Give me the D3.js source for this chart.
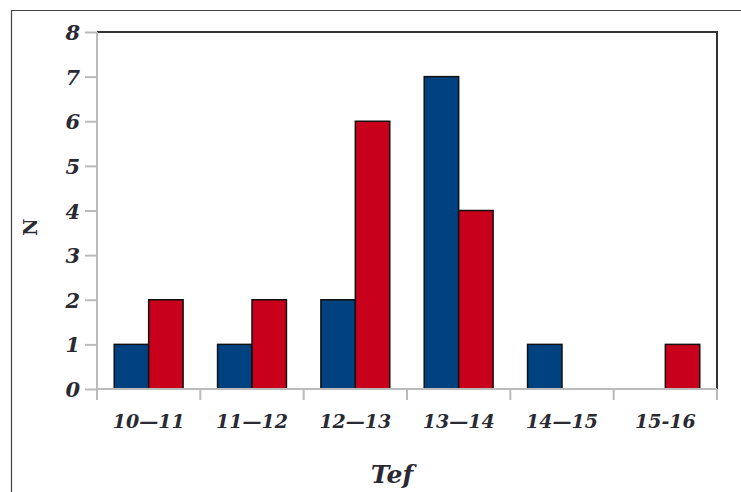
<!DOCTYPE html>
<html><head><meta charset="utf-8">
<script src="https://cdn.jsdelivr.net/npm/d3@7"></script>
<style>body{margin:0;background:#fff}svg{display:block}</style>
</head><body><svg id="c" width="741" height="492"></svg>
<script>
const categories = ["10\u201411","11\u201412","12\u201413","13\u201414","14\u201415","15-16"];
const seriesNames = ["blue","red"];
const blueValues = [1,1,2,7,1,0];
const redValues = [2,2,6,4,0,1];
const yTicks = [0,1,2,3,4,5,6,7,8];
const colors = {blue:"#00427f", red:"#c8001c"};

const svg = d3.select("#c");
const L=97, R=717, T=32, B=389;
const font = "'DejaVu Serif', serif";

// outer frame
svg.append("path").attr("d","M11.5,492 V10.5 H741").attr("fill","none").attr("stroke","#444").attr("stroke-width",1.2);

const x = d3.scaleBand().domain(categories).range([L,R]).padding(0);
const xs = d3.scaleBand().domain(seriesNames).range([0,x.bandwidth()]).paddingInner(0).paddingOuter(0.5);
const y = d3.scaleLinear().domain([0,8]).range([B,T]);

// plot frame top/right
svg.append("path").attr("d",`M${L},${T} H${R} V${B}`).attr("fill","none").attr("stroke","#333").attr("stroke-width",2);

// bars
const data = categories.map((c,i)=>({c, vals:[{s:"blue",v:blueValues[i]},{s:"red",v:redValues[i]}]}));
const g = svg.append("g");
data.forEach(d=>{
  d.vals.filter(e=>e.v>0).forEach(e=>{
    g.append("rect")
      .attr("x", x(d.c)+xs(e.s))
      .attr("y", y(e.v))
      .attr("width", xs.bandwidth())
      .attr("height", y(0)-y(e.v))
      .attr("fill", colors[e.s])
      .attr("stroke","#111").attr("stroke-width",1.5);
  });
});

// y axis
const yAxis = svg.append("g").attr("transform",`translate(${L},0)`)
  .call(d3.axisLeft(y).tickValues(yTicks).tickSize(12).tickPadding(5).tickFormat(d3.format("d")));
yAxis.select(".domain").attr("d",`M0,${T}V${B+11}`).attr("stroke","#bbb").attr("stroke-width",2);
yAxis.selectAll(".tick line").attr("stroke","#bbb").attr("stroke-width",2);
yAxis.selectAll(".tick text").attr("font-family",font).attr("font-weight","bold").attr("font-style","italic")
  .attr("font-size",21).attr("fill","#2a2a33").attr("dy","0.36em");

// x axis
const bounds = categories.map(c=>x(c)).concat([R]);
const xg = svg.append("g");
xg.append("line").attr("x1",L).attr("x2",R).attr("y1",B).attr("y2",B).attr("stroke","#bbb").attr("stroke-width",2);
bounds.forEach(b=>xg.append("line").attr("x1",b).attr("x2",b).attr("y1",B).attr("y2",B+11).attr("stroke","#bbb").attr("stroke-width",2));
categories.forEach(c=>{
  xg.append("text").attr("x",x(c)+x.bandwidth()/2).attr("y",428).attr("text-anchor","middle")
    .attr("font-family",font).attr("font-weight","bold").attr("font-style","italic").attr("font-size",19).attr("fill","#2a2a33").text(c);
});

// axis titles
svg.append("text").attr("x",392).attr("y",483).attr("text-anchor","middle")
  .attr("font-family",font).attr("font-weight","bold").attr("font-style","italic").attr("font-size",25).attr("fill","#2a2a33").text("Tef");
svg.append("text").attr("transform","translate(37,227) rotate(-90)").attr("text-anchor","middle")
  .attr("font-family",font).attr("font-weight","bold").attr("font-size",19).attr("fill","#2a2a33").text("N");
</script></body></html>
